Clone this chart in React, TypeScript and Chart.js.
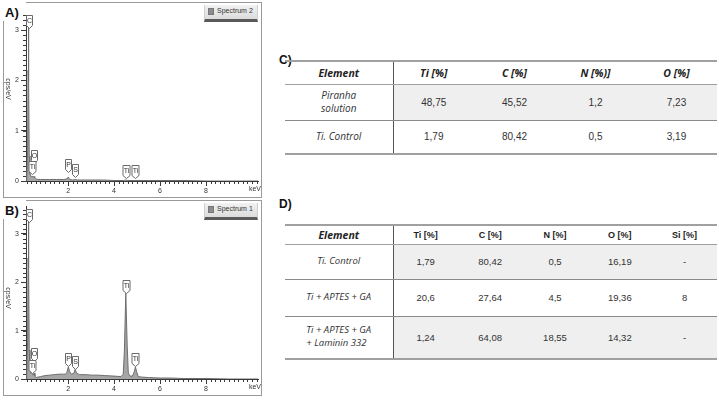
import React, { useEffect, useRef } from "react";
import { Chart, registerables } from "chart.js";
Chart.register(...registerables);

// ---- Spectrum A (Spectrum 2) ----
const energyA = [0.17, 0.2, 0.24, 0.26, 0.277, 0.29, 0.31, 0.34, 0.38, 0.42, 0.45, 0.48, 0.52, 0.55, 0.6, 0.7, 0.8, 1.0, 1.2, 1.5, 1.8, 1.95, 2.01, 2.07, 2.2, 2.31, 2.4, 2.6, 3.0, 3.5, 4.0, 4.4, 4.51, 4.6, 4.9, 5.0, 5.5, 6.0, 7.0, 8.0, 9.0, 10.26];
const countsA = [0.0, 0.05, 0.6, 2.2, 3.05, 2.0, 0.5, 0.15, 0.1, 0.08, 0.1, 0.08, 0.09, 0.06, 0.04, 0.03, 0.03, 0.03, 0.03, 0.03, 0.03, 0.04, 0.08, 0.03, 0.02, 0.03, 0.02, 0.02, 0.02, 0.02, 0.01, 0.01, 0.02, 0.01, 0.01, 0.01, 0.01, 0.01, 0.01, 0.0, 0.0, 0.0];

// ---- Spectrum B (Spectrum 1) ----
const energyB = [0.17, 0.2, 0.24, 0.26, 0.277, 0.29, 0.31, 0.34, 0.38, 0.42, 0.45, 0.48, 0.52, 0.56, 0.6, 0.7, 0.8, 0.9, 1.0, 1.2, 1.4, 1.6, 1.8, 1.9, 1.95, 2.01, 2.07, 2.15, 2.25, 2.31, 2.37, 2.5, 2.8, 3.0, 3.3, 3.6, 4.0, 4.3, 4.4, 4.45, 4.51, 4.57, 4.62, 4.7, 4.8, 4.88, 4.93, 4.98, 5.05, 5.2, 5.5, 6.0, 6.5, 7.0, 8.0, 9.0, 10.26];
const countsB = [0.0, 0.05, 0.8, 2.5, 3.25, 2.3, 0.6, 0.2, 0.12, 0.1, 0.1, 0.08, 0.12, 0.06, 0.03, 0.04, 0.05, 0.06, 0.07, 0.08, 0.09, 0.1, 0.1, 0.1, 0.14, 0.25, 0.15, 0.1, 0.12, 0.2, 0.12, 0.09, 0.09, 0.08, 0.08, 0.07, 0.06, 0.05, 0.1, 0.6, 1.77, 0.7, 0.12, 0.06, 0.06, 0.15, 0.25, 0.15, 0.05, 0.04, 0.03, 0.02, 0.02, 0.01, 0.01, 0.0, 0.0];

// ---- Peak markers ----
const peakNames = ["C", "O", "Ti", "P", "S", "Ti", "Ti"];
const peakEnergies = [0.3, 0.525, 0.452, 2.013, 2.307, 4.51, 4.93];
const peakTipsA = [3.05, 0.36, 0.14, 0.18, 0.08, 0.06, 0.06];
const peakTipsB = [3.25, 0.37, 0.12, 0.26, 0.21, 1.77, 0.26];

const xTicks = [2, 4, 6, 8];
const yTicks = [0, 1, 2, 3];

// ---- Tables ----
const tableCHeader = ["Element", "Ti [%]", "C [%]", "N [%)]", "O [%]"];
const tableCSamples = ["Piranha\nsolution", "Ti. Control"];
const tableCTi = ["48,75", "1,79"];
const tableCC = ["45,52", "80,42"];
const tableCN = ["1,2", "0,5"];
const tableCO = ["7,23", "3,19"];

const tableDHeader = ["Element", "Ti [%]", "C [%]", "N [%]", "O [%]", "Si [%]"];
const tableDSamples = ["Ti. Control", "Ti + APTES + GA", "Ti + APTES + GA\n+ Laminin 332"];
const tableDTi = ["1,79", "20,6", "1,24"];
const tableDC = ["80,42", "27,64", "64,08"];
const tableDN = ["0,5", "4,5", "18,55"];
const tableDO = ["16,19", "19,36", "14,32"];
const tableDSi = ["-", "8", "-"];

const AX = "#3a3a3a";
const FONT = "'Liberation Sans', Arial, sans-serif";

const decorPlugin = {
  id: "decor",
  afterDraw(chart: any, _args: any, opts: any) {
    const ctx = chart.ctx;
    const xs = chart.scales.x;
    const ys = chart.scales.y;
    const ca = chart.chartArea;
    ctx.save();
    ctx.strokeStyle = AX;
    ctx.lineWidth = 1;
    // minor x ticks
    ctx.beginPath();
    for (let v = 0.2; v <= xs.max + 1e-6; v += 0.2) {
      const px = Math.round(xs.getPixelForValue(v)) + 0.5;
      ctx.moveTo(px, ca.bottom);
      ctx.lineTo(px, ca.bottom + 3);
    }
    // minor y ticks
    for (let v = 0; v <= ys.max + 1e-6; v += 0.1) {
      const py = Math.round(ys.getPixelForValue(v)) + 0.5;
      ctx.moveTo(ca.left, py);
      ctx.lineTo(ca.left - 3, py);
    }
    ctx.stroke();
    // keV label
    ctx.fillStyle = "#333";
    ctx.font = "7px " + FONT;
    ctx.textAlign = "right";
    ctx.textBaseline = "top";
    ctx.fillText("keV", ca.right + 3, ca.bottom + 5);
    // y title
    ctx.translate(5, opts.titleY);
    ctx.rotate(Math.PI / 2);
    ctx.textAlign = "center";
    ctx.textBaseline = "middle";
    ctx.fillText("cps/eV", 0, 0);
    ctx.restore();

    // peak markers
    ctx.save();
    ctx.font = "7px " + FONT;
    ctx.textAlign = "center";
    ctx.textBaseline = "middle";
    const tips: number[] = opts.tips;
    for (let i = 0; i < peakNames.length; i++) {
      const px = Math.round(xs.getPixelForValue(peakEnergies[i])) + 0.5;
      const py = Math.round(ys.getPixelForValue(tips[i])) + 0.5;
      const w = peakNames[i].length > 1 ? 7 : 6;
      const top = py - 13;
      const bot = py - 3;
      ctx.beginPath();
      ctx.moveTo(px - w / 2, top);
      ctx.lineTo(px + w / 2, top);
      ctx.lineTo(px + w / 2, bot);
      ctx.lineTo(px, py);
      ctx.lineTo(px - w / 2, bot);
      ctx.closePath();
      ctx.fillStyle = "#ffffff";
      ctx.fill();
      ctx.strokeStyle = "#6a6a6a";
      ctx.stroke();
      ctx.fillStyle = "#333";
      ctx.fillText(peakNames[i], px, (top + bot) / 2 + 0.5);
    }
    ctx.restore();
  },
};

function Spectrum(props: any) {
  const ref = useRef<HTMLCanvasElement>(null);
  useEffect(() => {
    const chart = new Chart(ref.current as HTMLCanvasElement, {
      type: "line",
      data: {
        datasets: [
          {
            data: props.energy.map((e: number, i: number) => ({ x: e, y: props.counts[i] })),
            borderColor: "#6e6e6e",
            borderWidth: 1,
            backgroundColor: "#a6a6a6",
            fill: "origin",
            pointRadius: 0,
            tension: 0,
          },
        ],
      },
      options: {
        responsive: false,
        animation: false,
        layout: { padding: { top: props.padTop, right: 4, left: 0, bottom: 0 } },
        plugins: {
          legend: { display: false },
          tooltip: { enabled: false },
          decor: { tips: props.tips, titleY: props.titleY },
        } as any,
        scales: {
          x: {
            type: "linear",
            min: 0.17,
            max: 10.26,
            afterBuildTicks: (s: any) => {
              s.ticks = xTicks.map((v) => ({ value: v }));
            },
            afterFit: (s: any) => {
              s.height = 17;
            },
            grid: { drawOnChartArea: false, tickLength: 5, color: AX },
            border: { color: AX },
            ticks: { font: { size: 7, family: FONT }, color: "#333", padding: 1, autoSkip: false, maxRotation: 0 },
          },
          y: {
            type: "linear",
            min: 0,
            max: props.yMax,
            afterBuildTicks: (s: any) => {
              s.ticks = yTicks.map((v) => ({ value: v }));
            },
            afterFit: (s: any) => {
              s.width = 23;
            },
            grid: { drawOnChartArea: false, tickLength: 5, color: AX },
            border: { color: AX },
            ticks: { font: { size: 7, family: FONT }, color: "#333", padding: 2 },
          },
        },
      } as any,
      plugins: [decorPlugin],
    });
    return () => chart.destroy();
  }, []);
  return (
    <canvas
      ref={ref}
      width={props.w}
      height={props.h}
      style={{ position: "absolute", left: props.left, top: props.top, width: props.w, height: props.h }}
    />
  );
}

function Panel(props: any) {
  return (
    <>
      <div
        style={{
          position: "absolute",
          left: 3,
          top: props.frameTop,
          width: 259,
          height: props.frameH,
          border: "1px solid #9a9a9a",
          boxSizing: "border-box",
        }}
      />
      <div
        style={{
          position: "absolute",
          left: 0,
          top: props.frameTop - 1,
          width: 26,
          height: 20,
          background: "#fff",
        }}
      />
      <div
        style={{
          position: "absolute",
          left: 5,
          top: props.frameTop + 3,
          font: "bold 13px " + FONT,
          color: "#111",
        }}
      >
        {props.label}
      </div>
      <div
        style={{
          position: "absolute",
          left: 204,
          top: props.frameTop + 3,
          width: 54,
          height: 17,
          boxSizing: "border-box",
          background: "linear-gradient(#f2f2f2, #dcdcdc)",
          borderBottom: "3px solid #5a5a5a",
          borderLeft: "1px solid #cfcfcf",
          borderRight: "1px solid #cfcfcf",
        }}
      >
        <div
          style={{
            position: "absolute",
            left: 3,
            top: 3,
            width: 6,
            height: 7,
            background: "#8c8c8c",
            border: "1px solid #777",
            boxSizing: "border-box",
          }}
        />
        <div style={{ position: "absolute", left: 12, top: 2, font: "7px " + FONT, color: "#333", whiteSpace: "nowrap" }}>
          {props.legend}
        </div>
      </div>
    </>
  );
}

const OPEN = "'Open Sans', 'Noto Sans', sans-serif";

function DataTable(props: any) {
  const cols: string[][] = props.cols;
  const nCols = props.header.length;
  const valW = (432 - 108) / (nCols - 1);
  return (
    <table
      style={{
        position: "absolute",
        left: 285,
        top: props.top,
        width: 432,
        borderCollapse: "collapse",
        tableLayout: "fixed",
        borderTop: "2px solid #a0a0a0",
        borderBottom: "2px solid #a0a0a0",
      }}
    >
      <colgroup>
        <col style={{ width: 108 }} />
        {props.header.slice(1).map((_: string, i: number) => (
          <col key={i} style={{ width: valW }} />
        ))}
      </colgroup>
      <tbody>
        <tr style={{ height: props.headH }}>
          {props.header.map((h: string, i: number) => (
            <td
              key={i}
              style={{
                padding: 0,
                textAlign: "center",
                verticalAlign: "middle",
                borderBottom: "1px solid #a0a0a0",
                borderRight: i === 0 ? "1px solid #555" : "none",
                font:
                  i === 0 || props.italicHead
                    ? "italic bold " + props.headSize + "px " + OPEN
                    : "bold " + (props.headSize - 1.5) + "px " + FONT,
                color: "#222",
              }}
            >
              {h}
            </td>
          ))}
        </tr>
        {props.samples.map((s: string, r: number) => (
          <tr key={r} style={{ height: props.rowH[r] }}>
            <td
              style={{
                padding: 0,
                textAlign: "center",
                verticalAlign: "middle",
                borderRight: "1px solid #555",
                borderBottom: r < props.samples.length - 1 ? "1px solid #8a8a8a" : "none",
                font: "italic " + props.bodySize + "px " + OPEN,
                color: "#333",
                lineHeight: "1.35",
              }}
            >
              <span style={{ display: "inline-block", textAlign: props.leftLines ? "left" : "center", whiteSpace: "pre" }}>
                {s}
              </span>
            </td>
            {cols.map((c, i) => (
              <td
                key={i}
                style={{
                  padding: 0,
                  textAlign: "center",
                  verticalAlign: "middle",
                  background: props.shaded[r] ? "#efefef" : "#fff",
                  borderBottom: r < props.samples.length - 1 ? "1px solid #8a8a8a" : "none",
                  font: props.bodySize + "px " + FONT,
                  color: "#333",
                }}
              >
                {c[r]}
              </td>
            ))}
          </tr>
        ))}
      </tbody>
    </table>
  );
}

export default function App() {
  return (
    <div
      style={{
        position: "fixed",
        left: 0,
        top: 0,
        width: 719,
        height: 400,
        background: "#fff",
        overflow: "hidden",
      }}
    >
      <Panel frameTop={2} frameH={196} label="A)" legend="Spectrum 2" />
      <Spectrum energy={energyA} counts={countsA} tips={peakTipsA} yMax={3.3} padTop={12} titleY={86} left={3} top={3} w={259} h={195} />
      <Panel frameTop={200} frameH={196} label="B)" legend="Spectrum 1" />
      <Spectrum energy={energyB} counts={countsB} tips={peakTipsB} yMax={3.57} padTop={3} titleY={98} left={3} top={200} w={259} h={196} />

      <div style={{ position: "absolute", left: 279, top: 53, font: "bold 12px " + FONT, color: "#111" }}>C)</div>
      <DataTable
        top={60}
        header={tableCHeader}
        samples={tableCSamples}
        cols={[tableCTi, tableCC, tableCN, tableCO]}
        headH={23}
        rowH={[36, 34]}
        shaded={[true, false]}
        italicHead={true}
        headSize={10.5}
        bodySize={10}
        leftLines={false}
      />

      <div style={{ position: "absolute", left: 279, top: 197, font: "bold 12px " + FONT, color: "#111" }}>D)</div>
      <DataTable
        top={224}
        header={tableDHeader}
        samples={tableDSamples}
        cols={[tableDTi, tableDC, tableDN, tableDO, tableDSi]}
        headH={19}
        rowH={[35, 37, 43]}
        shaded={[true, false, true]}
        italicHead={false}
        headSize={10.5}
        bodySize={9.5}
        leftLines={true}
      />
    </div>
  );
}
